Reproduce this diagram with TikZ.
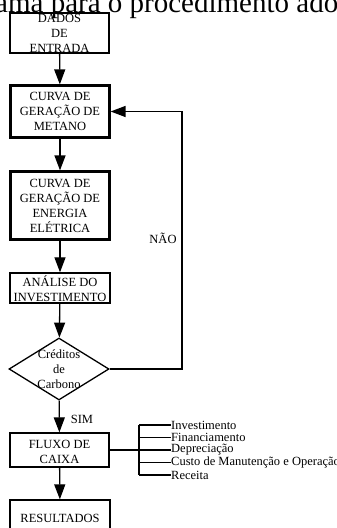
\documentclass[tikz,border=0pt]{standalone}
\usepackage{fontspec}
\setmainfont{Liberation Serif}
\usepackage{tikz}
\usetikzlibrary{arrows.meta,shapes.geometric}

\begin{document}
\begin{tikzpicture}[>={Triangle[length=15bp,width=11bp]},line join=miter,
  txt/.style={font=\fontsize{12.5bp}{15bp}\selectfont,align=center,inner sep=0pt},
  caixa/.style={draw,line width=1.3bp,rectangle,inner sep=0pt},
  caixagrossa/.style={caixa,line width=2.2bp},
  seta/.style={->,line width=1.3bp}]
%%
  \path[use as bounding box] (0bp,0bp) rectangle (337bp,528bp);
  \clip (0bp,0bp) rectangle (337bp,528bp);
  \node (titulo) at (-5bp,515bp) [anchor=base west,inner sep=0pt,font=\fontsize{29bp}{32bp}\selectfont] {ama para o procedimento ado};
  \node (dados) at (59.5bp,495bp) [caixa,minimum width=99bp,minimum height=40bp] {};
  \node (dados_txt) at (dados.center) [txt] {DADOS\\DE\\ENTRADA};
  \node (metano) at (60bp,416.5bp) [caixagrossa,minimum width=99bp,minimum height=52bp] {};
  \node (metano_txt) at (metano.center) [txt] {CURVA DE\\GERAÇÃO DE\\METANO};
  \node (energia) at (60bp,322.5bp) [caixagrossa,minimum width=99bp,minimum height=68bp] {};
  \node (energia_txt) at (energia.center) [txt] {CURVA DE\\GERAÇÃO DE\\ENERGIA\\ELÉTRICA};
  \node (analise) at (60bp,240bp) [caixa,minimum width=100bp,minimum height=30bp] {};
  \node (analise_txt) at ([yshift=-1bp]analise.center) [txt] {ANÁLISE DO\\INVESTIMENTO};
  \node (credito) at (59bp,159bp) [draw,line width=1.3bp,diamond,inner sep=0pt,minimum width=100bp,minimum height=62bp] {};
  \node (credito_txt) at (credito.center) [txt] {Créditos\\de\\Carbono};
  \node (fluxo) at (59.5bp,78bp) [caixa,minimum width=99bp,minimum height=34bp] {};
  \node (fluxo_txt) at ([yshift=-2bp]fluxo.center) [txt] {FLUXO DE\\CAIXA};
  \node (resultados) at (60bp,10bp) [caixa,minimum width=100bp,minimum height=36bp] {};
  \node (resultados_txt) at (resultados.center) [txt] {RESULTADOS};
  \node (nao) at (163bp,290bp) [txt] {NÃO};
  \node (sim) at (82bp,109bp) [txt] {SIM};
  \coordinate (retorno) at (182bp,159bp);
  \coordinate (chave) at (139bp,78bp);
  \draw [seta] (dados) -- (metano);
  \draw [seta] (metano) -- (energia);
  \draw [seta] (energia) -- (analise);
  \draw [seta] (analise) -- (credito);
  \draw [seta] (credito) -- (fluxo);
  \draw [seta] (fluxo) -- (resultados);
  \draw [seta] (credito.east) -| (retorno) |- (metano.east);
  \draw [line width=1.3bp] (fluxo.east) -- (chave);
  \draw [line width=1.3bp] (139bp,103bp) -- (139bp,53bp);
  \foreach \nome/\y/\texto in {invest/103/Investimento, financ/90.5/Financiamento, deprec/78/Depreciação, custo/65.5/Custo de Manutenção e Operação, receita/53/Receita}{
    \node (\nome) at (171bp,\y bp) [txt,anchor=west] {\texto};
    \draw [line width=1.3bp] (139bp,\y bp) -- (\nome.west);
  }
%
\end{tikzpicture}
\end{document}
